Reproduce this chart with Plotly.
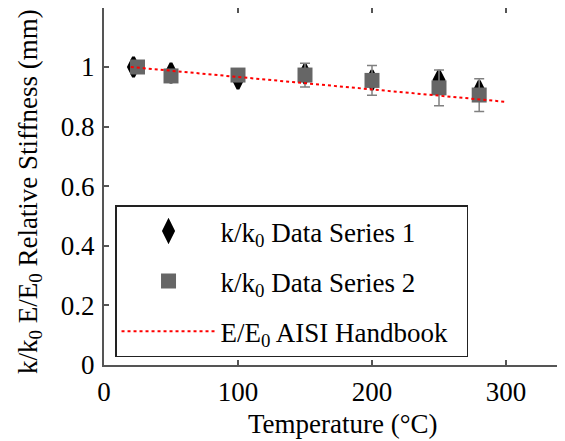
import plotly.graph_objects as go

temp1 = [22, 50, 100, 150, 200, 250, 280]
stiff1 = [1.0, 0.98, 0.96, 0.977, 0.956, 0.956, 0.92]

temp2 = [25, 50, 100, 150, 200, 250, 280]
stiff2 = [1.0, 0.97, 0.973, 0.973, 0.955, 0.93, 0.906]
err2 = [0.0, 0.0, 0.005, 0.04, 0.05, 0.06, 0.055]

aisi_temp = [20, 300]
aisi_ratio = [1.0, 0.883]

font = "Liberation Serif, Times New Roman, serif"
FS = 27

fig = go.Figure()
fig.add_trace(go.Scatter(
    x=temp1, y=stiff1, mode="markers", name="k/k<sub>0</sub> Data Series 1",
    legendgroup="a",
    marker=dict(symbol="diamond-tall", size=14, color="black",
                line=dict(color="black", width=3)),
))
fig.add_trace(go.Scatter(
    x=temp2, y=stiff2, mode="markers", name="k/k<sub>0</sub> Data Series 2",
    legendgroup="b",
    marker=dict(symbol="square", size=15, color="#666666"),
    error_y=dict(type="data", array=err2, color="#808080", thickness=1.5, width=5),
))
fig.add_trace(go.Scatter(
    x=aisi_temp, y=aisi_ratio, mode="lines", name="E/E<sub>0</sub> AISI Handbook&nbsp;&nbsp;",
    legendgroup="c",
    line=dict(color="red", dash="dot", width=2),
))

axis_common = dict(
    showline=True, linecolor="#555555", linewidth=2, ticks="inside",
    tickcolor="#555555", ticklen=5, tickwidth=1.5, showgrid=False, zeroline=False,
    tickfont=dict(family=font, size=FS, color="black"), automargin=False,
)
fig.update_xaxes(range=[0, 350], tickvals=[0, 100, 200, 300], mirror="ticks",
                 ticklabelstandoff=2, **axis_common)
fig.update_yaxes(range=[0, 1.198], tickvals=[0, 0.2, 0.4, 0.6, 0.8, 1.0],
                 ticktext=["0", "0.2", "0.4", "0.6", "0.8", "1"],
                 ticklabelstandoff=2, **axis_common)

fig.add_annotation(text="Temperature (°C)", xref="paper", yref="paper",
                   x=0.51, y=-0.117, xanchor="center", yanchor="top", showarrow=False,
                   font=dict(family=font, size=FS, color="black"))
fig.add_annotation(text="k/k<sub>0</sub> E/E<sub>0</sub> Relative Stiffness (mm)",
                   xref="paper", yref="paper", x=-0.158, y=0.487, textangle=-90,
                   xanchor="center", yanchor="middle", showarrow=False,
                   font=dict(family=font, size=FS, color="black"))

fig.update_layout(
    width=565, height=441,
    margin=dict(l=96, r=0, t=0, b=84),
    paper_bgcolor="white", plot_bgcolor="white",
    showlegend=True,
    legend=dict(
        x=0.0235, y=0.447, xanchor="left", yanchor="top",
        bordercolor="#222222", borderwidth=1.5, bgcolor="white",
        font=dict(family=font, size=FS, color="black"),
        itemwidth=94, tracegroupgap=12,
    ),
)

fig.write_html("out.html")
